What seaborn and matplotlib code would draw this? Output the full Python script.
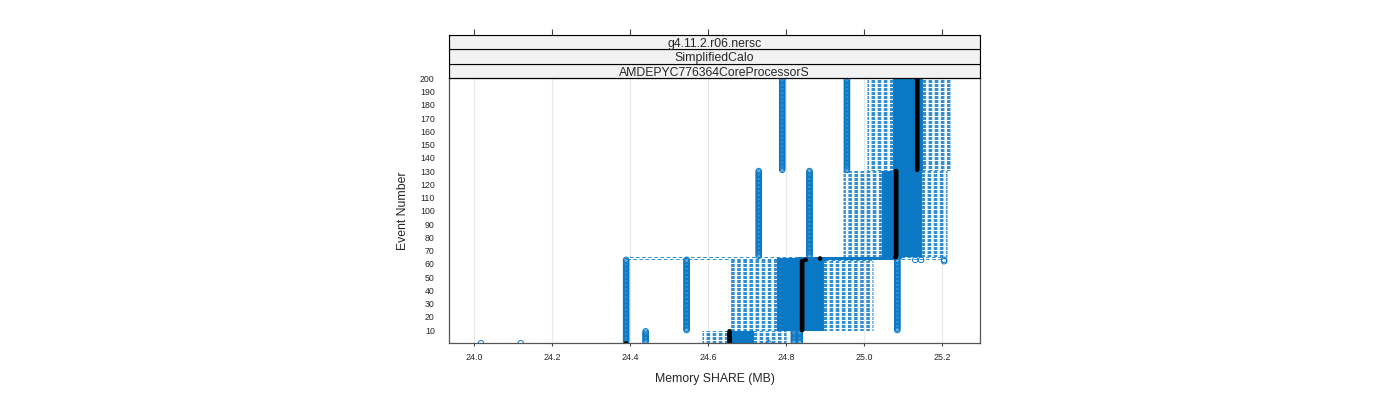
import numpy as np
import pandas as pd
import matplotlib
matplotlib.use("Agg")
import matplotlib.pyplot as plt
import seaborn as sns

# ---- data (per group of event numbers) ----
seg_first  = [0, 1, 10, 63, 64, 65, 66, 131]
seg_last   = [0, 9, 62, 63, 64, 65, 130, 200]
whisker_lo = [24.335, 24.585, 24.651, 24.651, 24.390, 24.390, 24.946, 25.008]
box_q1     = [24.335, 24.650, 24.777, 24.777, 24.777, 24.830, 25.046, 25.075]
box_median = [24.390, 24.655, 24.841, 24.850, 24.887, 25.080, 25.082, 25.136]
box_q3     = [24.440, 24.715, 24.895, 24.900, 25.080, 25.095, 25.146, 25.148]
whisker_hi = [24.520, 24.800, 25.023, 25.023, 25.205, 25.210, 25.213, 25.220]

# outliers: (first event, last event, value)
out_first = [0, 0, 0, 0, 1, 1, 1, 1, 10, 10, 62, 63, 63, 66, 66, 131, 131]
out_last  = [0, 0, 0, 0, 63, 9, 9, 9, 63, 63, 63, 63, 63, 130, 130, 200, 200]
out_value = [24.018, 24.120, 24.685, 24.755, 24.390, 24.440, 24.820, 24.835,
             24.545, 25.085, 25.205, 25.131, 25.146, 24.730, 24.860, 24.790, 24.956]

x_ticks = [24.0, 24.2, 24.4, 24.6, 24.8, 25.0, 25.2]
y_ticks = list(range(10, 201, 10))
strip_labels = ["g4.11.2.r06.nersc", "SimplifiedCalo", "AMDEPYC776364CoreProcessorS"]

BLUE = "#0a78c4"
WHISK = "#1f84cc"

# ---- build long tables ----
rows = []
for f, l, a, b, c, d, e in zip(seg_first, seg_last, whisker_lo, box_q1, box_median, box_q3, whisker_hi):
    for ev in range(f, l + 1):
        for v in (a, b, c, d, e):
            rows.append((ev, v))
df = pd.DataFrame(rows, columns=["event", "share"])

orows = []
for f, l, v in zip(out_first, out_last, out_value):
    for ev in range(f, l + 1):
        orows.append((ev, v))
out_df = pd.DataFrame(orows, columns=["event", "share"])

sns.set_theme(style="white")
plt.rcParams["font.family"] = ["Liberation Sans", "DejaVu Sans"]
plt.rcParams["lines.scale_dashes"] = False

fig = plt.figure(figsize=(14, 4), dpi=100)
L, R = 449 / 1400, 980 / 1400
B, T = (400 - 343) / 400, (400 - 78) / 400
ax = fig.add_axes([L, B, R - L, T - B])

for xv in x_ticks:
    ax.axvline(xv, color="#e8e8e8", lw=0.8, zorder=0)

sns.boxplot(data=df, x="share", y="event", orient="y", native_scale=True,
            whis=(0, 100), width=0.5, fill=False, color=BLUE, linecolor=BLUE,
            linewidth=0.75, showfliers=False, showcaps=False,
            whiskerprops=dict(linestyle=(0, (2.6, 1.8)), color=WHISK, linewidth=0.65),
            medianprops=dict(visible=False),
            ax=ax)

sns.scatterplot(data=out_df, x="share", y="event", marker="o", s=16,
                color=BLUE, facecolor="none", edgecolor=BLUE, linewidth=0.7,
                ax=ax, zorder=4)

med_df = df.groupby("event", as_index=False)["share"].median()
sns.scatterplot(data=med_df, x="share", y="event", color="black", s=11,
                edgecolor="none", ax=ax, zorder=5)

ax.set_xlim(23.936, 25.297)
ax.set_ylim(0.2, 200.3)
ax.set_xticks(x_ticks)
ax.set_xticklabels([f"{v:.1f}" for v in x_ticks])
ax.set_yticks(y_ticks)
ax.set_yticklabels([str(v) for v in y_ticks])
ax.tick_params(axis="x", bottom=True, length=2.5, width=0.8, color="#444444",
               labelsize=6.4, pad=4.5, direction="out")
ax.tick_params(axis="y", left=False, labelsize=6.3, pad=4.3)
for s in ax.spines.values():
    s.set_color("#555555")
    s.set_linewidth(0.9)
ax.set_xlabel("Memory SHARE (MB)", fontsize=8.8, labelpad=8)
ax.set_ylabel("Event Number", fontsize=8.8, labelpad=8)

# strips
sax = fig.add_axes([L, T, R - L, 43 / 400], sharex=ax)
sax.set_ylim(0, 3)
xmid = np.mean(ax.get_xlim())
for i, lab in enumerate(strip_labels[::-1]):
    sax.axhspan(i, i + 1, facecolor="#f2f2f2", edgecolor="black", lw=0.8)
    sax.text(xmid, i + 0.47, lab, ha="center", va="center_baseline", fontsize=8.8)
sax.tick_params(axis="x", bottom=False, top=True, labelbottom=False, labeltop=False,
                length=4.5, width=0.8, color="#444444", direction="out")
sax.tick_params(axis="y", left=False, labelleft=False)
for s in sax.spines.values():
    s.set_color("black")
    s.set_linewidth(0.8)
sax.set_xlabel("")
sax.set_ylabel("")

fig.savefig("out.png", dpi=100)
